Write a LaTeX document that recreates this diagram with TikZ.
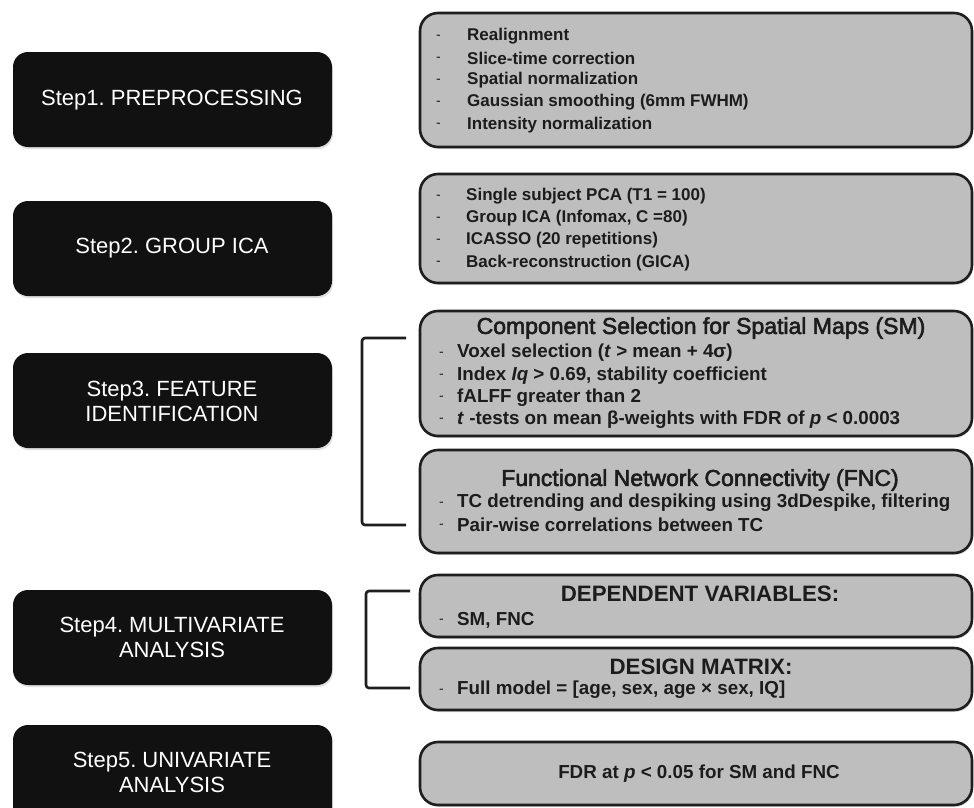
\documentclass[tikz,border=0pt]{standalone}
\usepackage{fontspec}
\setmainfont{Liberation Sans}
\newfontfamily\semibold[FakeBold=2.5]{Liberation Sans}
\usetikzlibrary{shadows}
\definecolor{boxgray}{HTML}{BEBEBE}
\definecolor{boxline}{HTML}{1E1E1E}
\definecolor{stepblack}{HTML}{111111}
\definecolor{txt}{HTML}{1C1C1C}
\tikzset{
  stepbox/.style={fill=stepblack, rounded corners=15pt, drop shadow={shadow xshift=1pt, shadow yshift=-2pt, opacity=0.25}},
  steptext/.style={text=white, font=\frenchspacing\fontsize{22}{25}\selectfont, align=center, inner sep=0pt},
  graybox/.style={fill=boxgray, draw=boxline, line width=2.6pt, rounded corners=18pt, drop shadow={shadow xshift=1pt, shadow yshift=-2pt, opacity=0.25}},
  item/.style={anchor=west, inner sep=0pt, font=\frenchspacing\bfseries\fontsize{17}{20}\selectfont, text=txt},
  itemb/.style={item, font=\frenchspacing\bfseries\fontsize{18.8}{22}\selectfont},
  hyph/.style={anchor=west, inner sep=0pt, font=\fontsize{14}{16}\selectfont, text=txt},
  boxtitle/.style={inner sep=0pt, font=\frenchspacing\semibold\fontsize{23}{26}\selectfont, text=txt},
  boxtitleb/.style={inner sep=0pt, font=\frenchspacing\bfseries\fontsize{22.3}{26}\selectfont, text=txt},
  brack/.style={draw=boxline, line width=2.6pt, rounded corners=3pt}
}
\begin{document}
\begin{tikzpicture}[x=1pt,y=-1pt]
\useasboundingbox (0,0) rectangle (974,807);
\clip (0,0) rectangle (974,807);
\fill[white] (0,0) rectangle (974,807);
% black step boxes
\fill[stepbox] (13,52) rectangle (332,147);
\fill[stepbox] (13,201) rectangle (332,296);
\fill[stepbox] (13,353) rectangle (332,448);
\fill[stepbox] (13,590) rectangle (332,685);
\fill[stepbox] (13,725) rectangle (332,850);
\node[steptext] (s1) at (172,100) {Step1. PREPROCESSING};
\node[steptext] (s2) at (172,248) {Step2. GROUP ICA};
\node[steptext] (s3) at (172,401) {Step3. FEATURE\\IDENTIFICATION};
\node[steptext] (s4) at (172,637) {Step4. MULTIVARIATE\\ANALYSIS};
\node[steptext] (s5) at (172,772) {Step5. UNIVARIATE\\ANALYSIS};
% gray boxes
\path[graybox] (420,13) rectangle (972,147);
\path[graybox] (420,174) rectangle (972,283);
\path[graybox] (420,311) rectangle (972,436);
\path[graybox] (420,450) rectangle (972,553);
\path[graybox] (420,575) rectangle (972,637);
\path[graybox] (420,648) rectangle (972,710);
\path[graybox] (420,742) rectangle (972,805);
% box 1
\foreach \t [count=\i] in {Realignment, Slice-time correction, Spatial normalization, Gaussian smoothing (6mm FWHM), Intensity normalization} {
  \node[hyph] (h1-\i) at (436,{37+22.2*(\i-1)}) {-};
  \node[item] (a\i) at (467,{36+22.2*(\i-1)}) {\t};
}
% box 2
\foreach \t [count=\i] in {Single subject PCA (T1 = 100), {Group ICA (Infomax, C =80)}, ICASSO (20 repetitions), Back-reconstruction (GICA)} {
  \node[hyph] (h2-\i) at (436,{197+22.2*(\i-1)}) {-};
  \node[item] (b\i) at (466,{196+22.2*(\i-1)}) {\t};
}
% box 3
\node[boxtitle] (t3) at (701,328) {Component Selection for Spatial Maps (SM)};
\foreach \t [count=\i] in {{Voxel selection (\textit{t} > mean + 4σ)}, {Index \textit{Iq} > 0.69, stability coefficient}, fALFF greater than 2, {\textit{t} -tests on mean β-weights with FDR of \textit{p} < 0.0003}} {
  \node[hyph] (h3-\i) at (439,{354+22.2*(\i-1)}) {-};
  \node[itemb] (c\i) at (457,{353+22.2*(\i-1)}) {\t};
}
\node[boxtitle] (t4) at (700,480) {Functional Network Connectivity (FNC)};
\foreach \t [count=\i] in {{TC detrending and despiking using 3dDespike, filtering}, Pair-wise correlations between TC} {
  \node[hyph] (h4-\i) at (439,{504+22.2*(\i-1)}) {-};
  \node[itemb] (d\i) at (457,{503+22.2*(\i-1)}) {\t};
}
% step 4 boxes
\node[boxtitleb] (t5) at (700,594) {DEPENDENT VARIABLES:};
\node[hyph] (h5) at (439,621) {-};
\node[itemb] (e1) at (457,620) {SM, FNC};
\node[boxtitleb] (t6) at (701,667) {DESIGN MATRIX:};
\node[hyph] (h6) at (439,691) {-};
\node[itemb] (f1) at (457,690) {Full model = [age, sex, age × sex, IQ]};
% step 5 box
\node[itemb, anchor=center] (g1) at (699,774) {FDR at \textit{p} < 0.05 for SM and FNC};
% brackets
\coordinate (k1) at (406,338);
\coordinate (k2) at (406,525);
\draw[brack] (k1) -- (362,338) -- (362,525) -- (k2);
\coordinate (k3) at (410,591);
\coordinate (k4) at (410,688);
\draw[brack] (k3) -- (366,591) -- (366,688) -- (k4);
\end{tikzpicture}
\end{document}
